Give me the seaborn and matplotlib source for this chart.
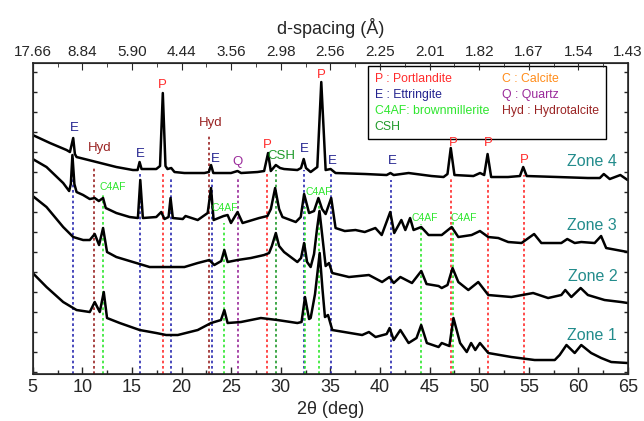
import matplotlib
matplotlib.use("Agg")
import matplotlib.pyplot as plt
from matplotlib.lines import Line2D
import numpy as np
import pandas as pd
import seaborn as sns

# 2-theta (deg) and intensity (a.u.), one pair of lists per zone
ZONE4_2THETA = [5.0, 6.74, 8.41, 8.75, 9.08, 9.25, 9.42, 11.43, 13.43, 15.10, 15.57, 15.77, 15.97,
                17.45, 17.83, 18.11, 18.38, 18.58, 18.96, 19.29, 20.29, 22.30, 22.75, 22.97, 23.2,
                24.98, 25.64, 26.0, 27.65, 28.32, 28.72, 28.99, 29.5, 29.93, 30.33, 31.67, 32.04,
                32.31, 32.54, 33.01, 33.68, 34.08, 34.52, 35.02, 35.52, 38.53, 40.67, 41.05, 41.38,
                42.88, 45.19, 46.4, 46.8, 47.13, 47.5, 49.41, 50.08, 50.5, 50.84, 51.2, 52.9, 54.1,
                54.43, 54.78, 57.94, 60.95, 62.15, 62.55, 63.15, 64.22, 64.95]
ZONE4_INT = [239, 231, 224, 222, 236, 220, 217, 212, 207, 204, 204, 212, 205,
             205, 208, 281, 208, 205, 206, 202, 201, 201, 202, 209, 201,
             201, 203, 201, 202, 203, 221, 203, 209, 206, 205, 204, 206,
             215, 206, 202, 207, 292, 204, 205, 201, 200, 199, 201, 199,
             201, 198, 197, 200, 226, 199, 198, 201, 199, 220, 197, 197, 198,
             207, 198, 197, 196, 196, 200, 195, 199, 194]

ZONE3_2THETA = [5.0, 6.39, 8.07, 8.67, 8.84, 9.0, 9.2, 9.42, 10.08, 10.75, 11.25, 11.66, 12.09,
                12.36, 13.43, 14.77, 15.6, 15.84, 16.1, 17.45, 17.95, 18.28, 18.69, 18.89, 19.12,
                20.12, 20.4, 21.63, 22.63, 22.97, 23.23, 24.24, 24.64, 24.98, 25.64, 26.15, 27.82,
                28.65, 29.0, 29.43, 29.83, 30.17, 31.51, 32.01, 32.35, 32.85, 33.35, 33.79, 34.16,
                34.52, 35.08, 35.52, 36.45, 37.53, 38.46, 39.53, 40.17, 41.03, 41.43, 42.15, 42.55,
                43.03, 43.38, 44.15, 44.89, 46.22, 47.22, 47.89, 49.23, 50.07, 50.91, 51.92, 52.92,
                54.26, 55.53, 56.26, 58.27, 58.87, 59.62, 60.28, 61.63, 62.28, 62.79, 64.96]
ZONE3_INT = [215, 207, 191, 183, 190, 219, 190, 182, 179, 175, 176, 173, 176,
             166, 161, 157, 156, 194, 156, 157, 162, 155, 157, 176, 156,
             155, 158, 154, 161, 186, 154, 158, 159, 151, 162, 151, 156,
             158, 165, 186, 165, 157, 152, 157, 180, 161, 163, 176, 165,
             160, 176, 146, 143, 144, 142, 146, 139, 162, 141, 154, 144,
             156, 144, 147, 139, 139, 147, 137, 139, 143, 137, 136, 132,
             131, 140, 131, 131, 135, 131, 132, 131, 138, 126, 122]

ZONE2_2THETA = [5.0, 6.39, 8.07, 9.08, 10.08, 10.75, 11.25, 11.69, 12.09, 12.49, 13.43, 15.44,
                16.78, 18.45, 20.29, 21.63, 22.8, 23.3, 24.0, 24.31, 24.64, 25.64, 26.98, 28.32,
                28.82, 29.1, 29.5, 29.83, 30.33, 31.67, 32.04, 32.35, 32.65, 33.01, 33.35, 33.65,
                33.9, 34.16, 34.52, 34.86, 35.19, 36.87, 38.88, 40.21, 40.95, 41.38, 42.05, 43.22,
                44.16, 44.69, 45.9, 46.22, 46.8, 47.31, 47.89, 48.9, 49.9, 50.91, 53.24, 55.43,
                56.94, 58.27, 58.67, 59.28, 60.22, 60.95, 62.63, 64.3, 64.97]
ZONE2_INT = [178, 167, 147, 137, 134, 134, 140, 129, 146, 122, 117, 111,
             107, 107, 107, 111, 114, 109, 113, 124, 112, 114, 116, 119,
             121, 128, 141, 128, 122, 112, 116, 131, 112, 107, 120, 145,
             163, 140, 108, 111, 101, 97, 99, 92, 97, 91, 97, 91,
             103, 90, 88, 86, 89, 106, 92, 84, 92, 79, 77, 81,
             76, 79, 84, 77, 86, 79, 74, 72, 71]

ZONE1_2THETA = [5.0, 6.39, 8.07, 9.42, 10.75, 11.25, 11.76, 12.16, 12.49, 13.77, 15.78, 17.45,
                18.45, 19.62, 21.63, 22.97, 23.97, 24.31, 24.64, 25.98, 27.99, 29.66, 31.67, 32.09,
                32.44, 32.85, 33.01, 33.45, 33.92, 34.2, 34.45, 34.76, 35.19, 38.2, 38.88, 39.55,
                40.67, 40.97, 41.38, 42.05, 42.88, 43.68, 44.15, 44.72, 45.9, 46.22, 46.99, 47.4,
                48.07, 48.74, 49.18, 49.6, 50.07, 50.91, 53.24, 55.58, 57.61, 58.1, 58.79, 59.62,
                60.28, 61.28, 62.29, 63.3, 64.96]
ZONE1_INT = [101, 87, 72, 64, 62, 72, 62, 82, 56, 51, 44, 41,
             39, 39, 44, 51, 54, 64, 51, 52, 56, 54, 51, 52,
             77, 55, 56, 80, 121, 85, 57, 59, 44, 39, 42, 37,
             40, 46, 34, 44, 31, 36, 49, 31, 27, 31, 28, 56,
             31, 22, 31, 24, 31, 21, 17, 14, 14, 19, 29, 21,
             29, 21, 16, 12, 11]

# reference lines: phase, 2-theta, top of the dotted line (a.u.)
REF_PHASE = ["E", "Hyd", "C4AF", "E", "P", "E", "Hyd", "E", "C4AF", "Q", "P", "CSH", "E",
             "C4AF", "C4AF", "E", "E", "C4AF", "P", "C4AF", "P", "P"]
REF_2THETA = [9.08, 11.18, 12.1, 15.85, 18.1, 18.9, 22.8, 23.05, 24.3, 25.7, 28.65, 29.5, 32.35,
              32.45, 33.85, 35.02, 41.1, 44.15, 47.15, 47.4, 50.9, 54.5]
REF_TOP = [217, 207, 181, 202, 201, 197, 239, 196, 151, 196, 201, 204, 204,
           167, 176, 201, 194, 150, 196, 152, 197, 199]

# peak labels: text, 2-theta, height
LABEL_TEXT = ["E", "Hyd", "E", "P", "Hyd", "E", "Q", "P", "CSH", "E", "P", "E", "E", "P", "P", "P",
              "C4AF", "C4AF", "C4AF", "C4AF", "C4AF"]
LABEL_2THETA = [9.24, 11.77, 15.87, 18.08, 22.9, 23.4, 25.6, 28.6, 30.1, 32.4, 34.05, 35.15, 41.2,
                47.35, 50.95, 54.5, 13.05, 24.4, 33.8, 44.55, 48.45]
LABEL_Y = [246, 226, 220, 289, 251, 215, 212, 229, 218, 225, 299, 213, 213, 231, 231, 214,
           187, 166, 182, 156, 156]

ZONE_NAMES = ["Zone 4", "Zone 3", "Zone 2", "Zone 1"]
ZONE_LABEL_Y = [213, 149, 98, 39]

X_TICKS = [5, 10, 15, 20, 25, 30, 35, 40, 45, 50, 55, 60, 65]
D_LABELS = ["17.66", "8.84", "5.90", "4.44", "3.56", "2.98", "2.56", "2.25", "2.01", "1.82",
            "1.67", "1.54", "1.43"]

LEGEND_TEXT = ["P : Portlandite", "E : Ettringite", "C4AF: brownmillerite", "CSH",
               "C : Calcite", "Q : Quartz", "Hyd : Hydrotalcite"]

PHASE_COLORS = {
    "P": "#ff2b2b",
    "E": "#23238f",
    "C4AF": "#2ee62e",
    "CSH": "#1f9a2a",
    "Q": "#9a2a9a",
    "Hyd": "#9a2424",
    "C": "#ff8c1a",
}
LINE_COLORS = {"E": "#2a2ab0"}


def build_frame() -> pd.DataFrame:
    parts = []
    for name, tt, inten in [("Zone 4", ZONE4_2THETA, ZONE4_INT), ("Zone 3", ZONE3_2THETA, ZONE3_INT),
                            ("Zone 2", ZONE2_2THETA, ZONE2_INT), ("Zone 1", ZONE1_2THETA, ZONE1_INT)]:
        parts.append(pd.DataFrame({"two_theta": tt, "intensity": inten, "zone": name}))
    return pd.concat(parts, ignore_index=True)


def main() -> None:
    sns.set_style("ticks")
    plt.rcParams["font.family"] = ["Liberation Sans", "DejaVu Sans"]

    df = build_frame()
    fig = plt.figure(figsize=(6.44, 4.21), dpi=100)
    ax = fig.add_axes([0.0508, 0.1116, 0.9245, 0.7387])

    for phase, tt, top in zip(REF_PHASE, REF_2THETA, REF_TOP):
        color = LINE_COLORS.get(phase, PHASE_COLORS[phase])
        ax.vlines(tt, 0, top, colors=color, linestyles=(0, (1.6, 1.6)), lw=1.2, zorder=1)

    sns.lineplot(data=df, x="two_theta", y="intensity", units="zone", estimator=None,
                 color="black", lw=1.8, sort=False, ax=ax, zorder=2)

    for text, tt, y in zip(LABEL_TEXT, LABEL_2THETA, LABEL_Y):
        size = 7.5 if text == "C4AF" else 9.5
        ax.text(tt, y, text, color=PHASE_COLORS[text], fontsize=size, ha="center", va="center",
                zorder=6)

    for name, y in zip(ZONE_NAMES, ZONE_LABEL_Y):
        ax.text(61.4, y, name, color="#238c8c", fontsize=11.5, ha="center", va="center")

    ax.set_xlim(5, 65)
    ax.set_ylim(0, 311)
    ax.set_xticks(X_TICKS)
    ax.set_xticks(np.arange(7.5, 65, 5), minor=True)
    ax.set_yticks(np.arange(2, 311, 20))
    ax.set_yticklabels([])
    ax.set_xlabel("2\u03b8 (deg)", fontsize=13, labelpad=4)
    ax.set_ylabel("")
    ax.tick_params(axis="both", direction="in", which="major", length=5, width=1, labelsize=13,
                   right=True)
    ax.tick_params(axis="both", direction="in", which="minor", length=3, width=1)
    ax.tick_params(axis="y", length=3)
    for spine in ax.spines.values():
        spine.set_linewidth(1.2)

    top = ax.twiny()
    top.set_xlim(5, 65)
    top.set_xticks(X_TICKS)
    top.set_xticks(np.arange(7.5, 65, 5), minor=True)
    top.set_xticklabels(D_LABELS)
    top.tick_params(axis="x", direction="in", which="major", length=5, labelsize=11, pad=3)
    top.tick_params(axis="x", direction="in", which="minor", length=3)
    top.set_xlabel("d-spacing (\u00c5)", fontsize=13, labelpad=8)

    handles = [Line2D([], [], linestyle="none") for _ in LEGEND_TEXT]
    colors = [PHASE_COLORS[t.split(":")[0].strip()] for t in LEGEND_TEXT]
    leg = ax.legend(handles, LEGEND_TEXT, ncol=2, loc="upper right", bbox_to_anchor=(0.963, 0.99),
                    borderaxespad=0, handlelength=0, handletextpad=0, columnspacing=1.1,
                    labelspacing=0.32, fontsize=8.8, labelcolor=colors, fancybox=False,
                    edgecolor="black", framealpha=1, borderpad=0.55)
    leg.get_frame().set_linewidth(1.0)

    fig.savefig("out.png", dpi=100)
    plt.close(fig)


if __name__ == "__main__":
    main()
